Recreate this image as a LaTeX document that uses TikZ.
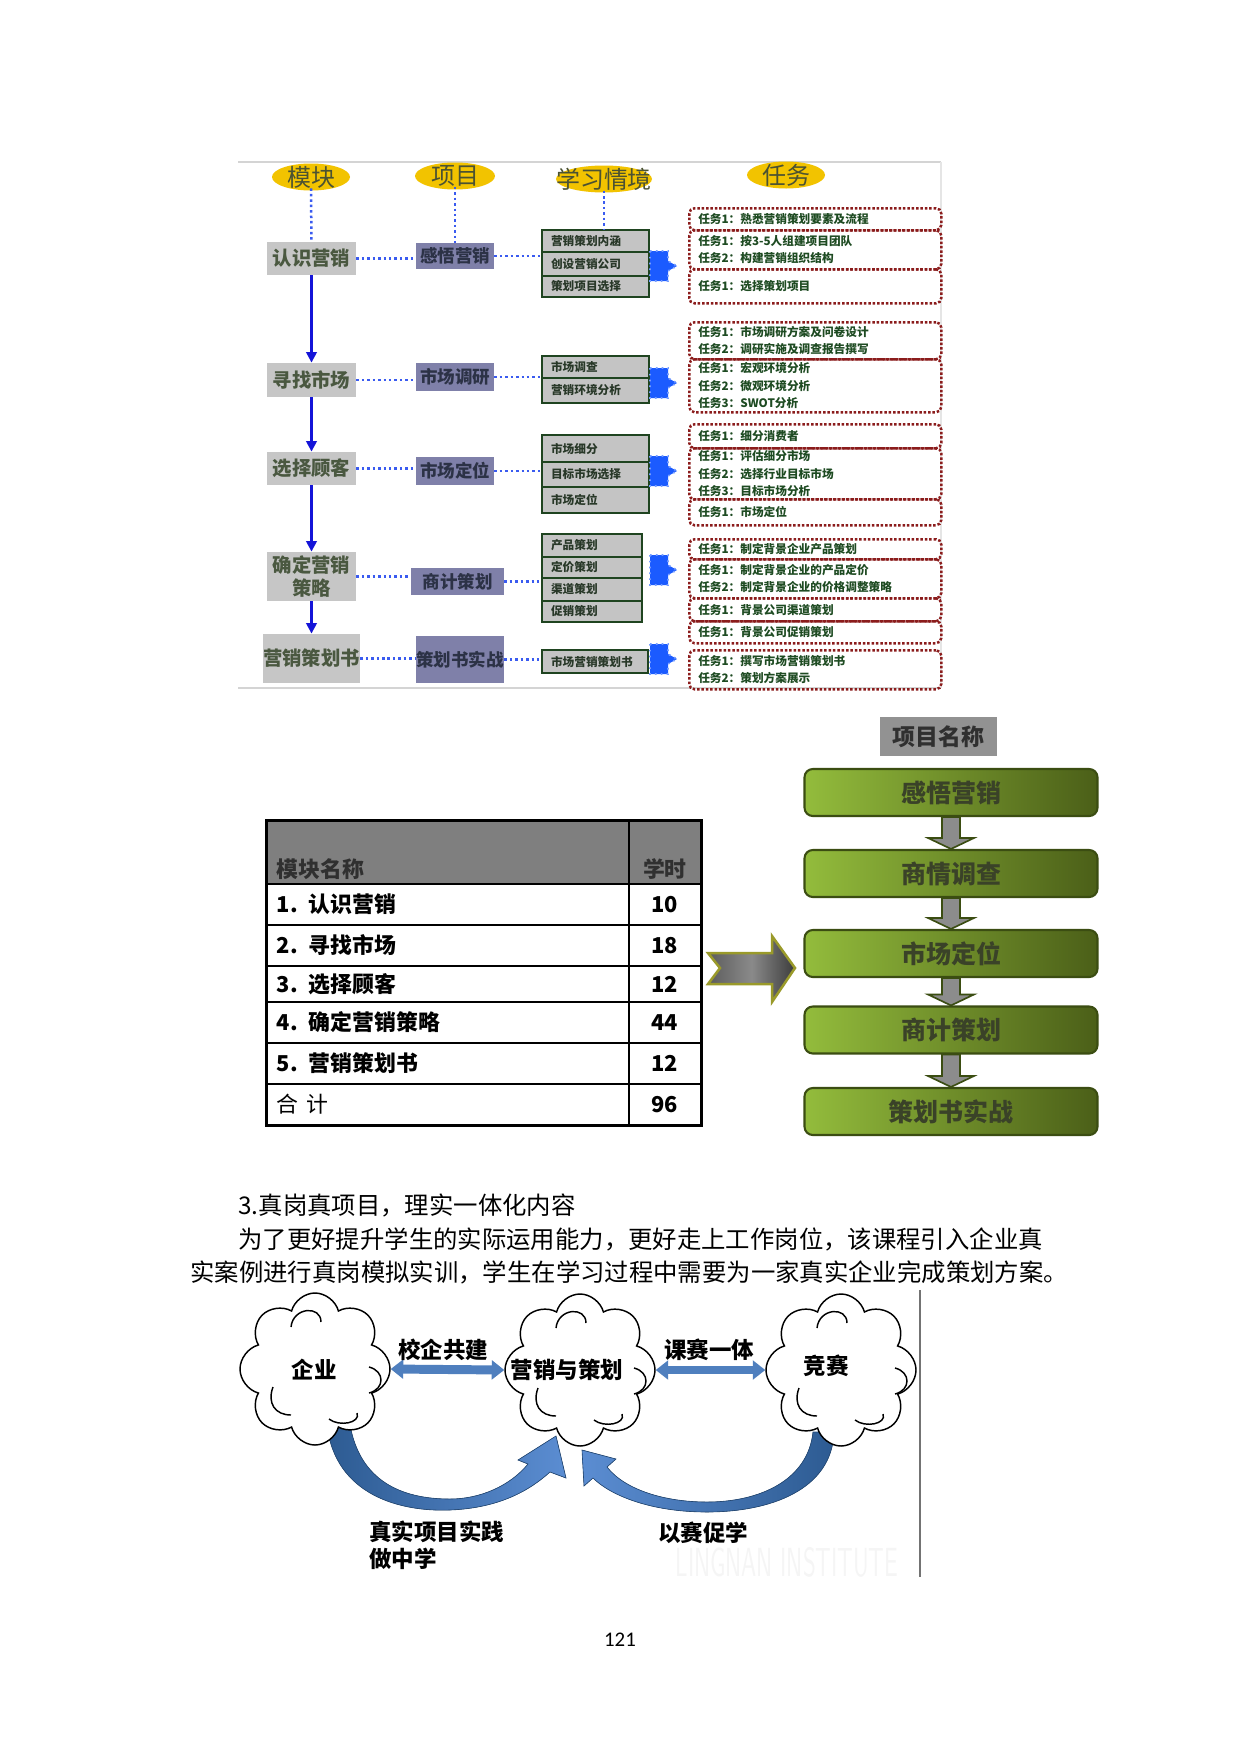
\documentclass[tikz,border=0pt]{standalone}
\usepackage{fontspec}
\setmainfont{Noto Sans CJK SC}
\newfontfamily\numfont{Carlito}
\usetikzlibrary{shapes.geometric,shapes.symbols,arrows.meta,calc}

\newcommand{\pxu}{0.48pt}
\newcommand{\fsz}[2]{\fontsize{#1}{#2}\selectfont}

\definecolor{framegray}{HTML}{D4D4D4}
\definecolor{headgold}{HTML}{F2C300}
\definecolor{headtxt}{HTML}{4B5232}
\definecolor{modfill}{HTML}{C6C6C6}
\definecolor{modtxt}{HTML}{4A5840}
\definecolor{projfill}{HTML}{7F80A9}
\definecolor{projtxt}{HTML}{2C3246}
\definecolor{rowfill}{HTML}{C4C4C4}
\definecolor{rowline}{HTML}{1F4420}
\definecolor{rowtxt}{HTML}{283828}
\definecolor{linkblue}{HTML}{3A5BF0}
\definecolor{flowblue}{HTML}{1414D8}
\definecolor{blobblue}{HTML}{1B5BFF}
\definecolor{taskred}{HTML}{8B1C1C}
\definecolor{tasktxt}{HTML}{1E4B22}
\definecolor{namegray}{HTML}{929292}
\definecolor{nametxt}{HTML}{303030}
\definecolor{greenL}{HTML}{93BC3C}
\definecolor{greenR}{HTML}{4B5F18}
\definecolor{greenline}{HTML}{3B4D12}
\definecolor{greentxt}{HTML}{3A4228}
\definecolor{arrowgray}{HTML}{8C8C8C}
\definecolor{chevline}{HTML}{9A9A2A}
\definecolor{chevL}{HTML}{5C5C5C}
\definecolor{chevM}{HTML}{8A8A8A}
\definecolor{chevR}{HTML}{3C3C3C}
\definecolor{tabhead}{HTML}{7F7F7F}
\definecolor{tabtxtc}{HTML}{303030}
\definecolor{swooshD}{HTML}{2D5B92}
\definecolor{swooshL}{HTML}{5B8DD2}
\definecolor{dblfill}{HTML}{4F7FBE}

\tikzset{
  headtext/.style={inner sep=0pt, text=headtxt, font=\fsz{11.5}{13}},
  modbox/.style={fill=modfill, text=modtxt, font=\fsz{9.3}{11.5}\bfseries, minimum width=89*\pxu, inner sep=0pt, align=center},
  projbox/.style={fill=projfill, text=projtxt, font=\fsz{8.4}{10}\bfseries, inner sep=0pt},
  rowbox/.style={draw=rowline, line width=1.2pt, fill=rowfill, text=rowtxt, font=\fsz{5.6}{7}\bfseries, text width={(#1-18)*\pxu}, inner xsep=9*\pxu, inner ysep=0pt, align=left},
  taskbox/.style={draw=taskred, line width=1.2pt, dash pattern=on 1.2pt off 0.9pt, rounded corners=2.5pt, text=tasktxt, font=\fsz{5.6}{8.4}\bfseries, text width=234*\pxu, inner xsep=9*\pxu, inner ysep=0pt, align=left, anchor=north west},
  dotlink/.style={draw=linkblue, line width=1.2pt, dash pattern=on 1.2pt off 1.4pt},
  flowarrow/.style={draw=flowblue, line width=1.1pt, -{Triangle[width=5pt,length=5pt]}},
  blob/.style={fill=blobblue, draw=blobblue!60!white, line width=0.8pt, dotted},
  namebox/.style={fill=namegray, text=nametxt, font=\fsz{11}{13}\bfseries, minimum width=117*\pxu, minimum height=39*\pxu, inner sep=0pt},
  gbox/.style={draw=greenline, line width=1pt, rounded corners=4pt, left color=greenL, right color=greenR, text=greentxt, font=\fsz{12}{14}\bfseries, minimum width=293*\pxu, minimum height=47*\pxu, inner sep=0pt},
  garrow/.style={fill=arrowgray, draw=greenline, line width=0.8pt},
  chevron/.style={draw=chevline, line width=1.2pt, left color=chevL, right color=chevR, middle color=chevM},
  tabcell/.style={draw=black, line width=0.9pt, inner sep=0pt, anchor=north west, font=\fsz{10.5}{12}\bfseries},
  tabtxt/.style={inner sep=0pt, text=tabtxtc, font=\fsz{10.5}{12}\bfseries},
  bodytxt/.style={inner sep=0pt, anchor=west, font=\fsz{11.7}{14}},
  cloudnode/.style={cloud, cloud puffs=8, cloud puff arc=150, aspect=1, draw=black, line width=0.7pt, fill=white, minimum width=150*\pxu, minimum height=152*\pxu, inner sep=0pt},
  cloudline/.style={draw=black, line width=0.7pt},
  cloudtxt/.style={inner sep=0pt, font=\fsz{10.8}{13}\bfseries},
  dbl/.style={draw=dblfill, line width=4.3pt, {Triangle[width=9pt,length=6pt]}-{Triangle[width=9pt,length=6pt]}},
  swoosh/.style={draw=swooshD!80!black, line width=0.3pt},
  lbl/.style={inner sep=0pt, font=\fsz{10.8}{13}\bfseries},
}

\begin{document}
\begin{tikzpicture}[x=0.48pt,y=-0.48pt]
\useasboundingbox[fill=white] (0,0) rectangle (1240,1753);

% modules, projects, situations, tasks
\draw[framegray, line width=1pt] (238,162) -- (941,162) (238,688) -- (941,688);
\draw[framegray!60, line width=0.6pt] (941,162) -- (941,688);

\foreach \x/\y/\rx/\nm/\txt in {311/177/39/hmod/模块, 455/176/40/hproj/项目, 604/179/48/hsit/学习情境, 786/175/39/htask/任务}{
  \fill[headgold] (\x,\y) ellipse [x radius=\rx, y radius=13.5];
  \node[headtext] (\nm) at (\x,\y) {\txt};
}

\foreach \n/\y/\h/\txt in {1/258.5/33/认识营销, 2/380/34/寻找市场, 3/468.5/33/选择顾客, 4/576.5/49/{确定营销\\策略}, 5/658.5/49/营销策划书}
  \node[modbox, minimum height=\h*\pxu] (mod\n) at (311.5,\y) {\txt};

\foreach \n/\x/\y/\w/\h/\txt in {1/455/256/78/26/感悟营销, 2/455/377/78/28/市场调研, 3/455/471/78/28/市场定位, 4/457.5/581.5/93/27/商计策划, 5/460/659.5/88/47/策划书实战}
  \node[projbox, minimum width=\w*\pxu, minimum height=\h*\pxu] (proj\n) at (\x,\y) {\txt};

\foreach \s/\r/\y/\h/\w/\txt in {1/1/241/22/107/营销策划内涵, 1/2/264/24/107/创设营销公司, 1/3/286.5/21/107/策划项目选择,
    2/1/367/22/107/市场调查, 2/2/390.5/25/107/营销环境分析,
    3/1/448.5/27/107/市场细分, 3/2/474.5/25/107/目标市场选择, 3/3/500/26/107/市场定位,
    4/1/545.5/23/100/产品策划, 4/2/567.5/21/100/定价策划, 4/3/589.5/23/100/渠道策划, 4/4/611.5/21/100/促销策划,
    5/1/661.5/23/106/市场营销策划书}
  \node[rowbox=\w, minimum height=\h*\pxu] (sit\s\r) at ({542+\w/2},\y) {\txt};

\draw[dotlink] (hmod) -- (mod1);
\draw[dotlink] (hproj) -- (proj1);
\draw[dotlink] (hsit) -- (hsit |- sit11.north);
\foreach \n in {1,...,5}{
  \draw[dotlink] (mod\n.east) -- (mod\n.east -| proj\n.west);
  \draw[dotlink] (proj\n.east) -- (proj\n.east -| sit\n1.west);
}
\foreach \a/\b in {1/2, 2/3, 3/4, 4/5}
  \draw[flowarrow] (mod\a) -- (mod\b);

\foreach \y in {266,383,471,570,659}
  \draw[blob] (650,{\y-15}) -- (668,{\y-15}) -- (668,{\y-5}) -- (677,\y) -- (668,{\y+5}) -- (668,{\y+15}) -- (650,{\y+15}) -- cycle;

\foreach \n/\top/\bot/\txt in {1/207/229/{任务1：熟悉营销策划要素及流程},
    2/229/268/{任务1：按3-5人组建项目团队\\任务2：构建营销组织结构},
    3/268/302/{任务1：选择策划项目},
    4/321/358/{任务1：市场调研方案及问卷设计\\任务2：调研实施及调查报告撰写},
    5/358/411/{任务1：宏观环境分析\\任务2：微观环境分析\\任务3：SWOT分析},
    6/423/447/{任务1：细分消费者},
    7/447/498/{任务1：评估细分市场\\任务2：选择行业目标市场\\任务3：目标市场分析},
    8/498/524/{任务1：市场定位},
    9/538/558/{任务1：制定背景企业产品策划},
    10/558/597/{任务1：制定背景企业的产品定价\\任务2：制定背景企业的价格调整策略},
    11/597/620/{任务1：背景公司渠道策划},
    12/620/642/{任务1：背景公司促销策划},
    13/649/688/{任务1：撰写市场营销策划书\\任务2：策划方案展示}}
  \node[taskbox, minimum height={(\bot-\top)*\pxu}] (task\n) at (688,\top) {\txt};

% project names and hours table
\node[namebox] (pname) at (938.5,736.5) {项目名称};
\foreach \n/\y/\txt in {1/792.5/感悟营销, 2/873.5/商情调查, 3/953.5/市场定位, 4/1030/商计策划, 5/1111.5/策划书实战}
  \node[gbox] (g\n) at (951,\y) {\txt};
\foreach \a/\b in {1/2, 2/3, 3/4, 4/5}
  \draw[garrow] ($(g\a.south)+(-9,0)$) -- ($(g\b.north)+(-9,-11)$) -- ++(-14,0) -- (g\b.north) -- ++(23,-11) -- ++(-14,0) -- ($(g\a.south)+(9,0)$) -- cycle;

\draw[chevron] (708,953) -- (772,953) -- (772,936) -- (795,968) -- (772,1002) -- (772,984) -- (708,984) -- (720,968) -- cycle;

\node[tabcell, fill=tabhead, minimum width=362*\pxu, minimum height=63*\pxu] (th1) at (266,820) {};
\node[tabcell, fill=tabhead, minimum width=72*\pxu, minimum height=63*\pxu] (th2) at (628,820) {};
\node[tabtxt, anchor=south west] (tht1) at ([shift={(10,-5)}]th1.south west) {模块名称};
\node[tabtxt, anchor=south] (tht2) at ([shift={(0,-5)}]th2.south) {学时};
\foreach \n/\top/\bot/\name/\hrs in {1/883/924/{1. 认识营销}/10, 2/924/965/{2. 寻找市场}/18, 3/965/1001/{3. 选择顾客}/12,
    4/1001/1042/{4. 确定营销策略}/44, 5/1042/1083/{5. 营销策划书}/12, 6/1083/1124/{\mdseries 合 计}/96}{
  \node[tabcell, minimum width=362*\pxu, minimum height={(\bot-\top)*\pxu}, text width=342*\pxu, inner xsep=10*\pxu, align=left] (rn\n) at (266,\top) {\name};
  \node[tabcell, minimum width=72*\pxu, minimum height={(\bot-\top)*\pxu}] (rh\n) at (628,\top) {\hrs};
}
\draw[line width=1.4pt] (th1.north west) rectangle (rh6.south east);

% text
\node[bodytxt] (par1) at (238,1205) {3.真岗真项目，理实一体化内容};
\node[bodytxt] (par2) at (238,1239) {为了更好提升学生的实际运用能力，更好走上工作岗位，该课程引入企业真};
\node[bodytxt] (par3) at (190,1272) {实案例进行真岗模拟实训，学生在学习过程中需要为一家真实企业完成策划方案。};

% clouds
\fill[swoosh, left color=swooshD, right color=swooshL] (327,1425) .. controls (335,1495) and (400,1512) .. (450,1510) .. controls (500,1508) and (530,1490) .. (550,1472) -- (566,1478) -- (556,1436) -- (518,1460) -- (528,1464) .. controls (510,1486) and (480,1499) .. (450,1499) .. controls (400,1499) and (360,1480) .. (350,1425) -- cycle;
\fill[swoosh, left color=swooshL, right color=swooshD] (834,1432) .. controls (832,1490) and (770,1512) .. (707,1512) .. controls (650,1512) and (610,1495) .. (593,1478) -- (584,1486) -- (582,1450) -- (616,1459) -- (607,1467) .. controls (625,1490) and (665,1502) .. (707,1502) .. controls (760,1502) and (808,1480) .. (813,1432) -- cycle;

\node[cloudnode] (c1) at (315,1369) {};
\node[cloudnode] (c2) at (580,1370) {};
\node[cloudnode] (c3) at (841,1370) {};
\foreach \c in {c1,c2,c3}{
  \draw[cloudline] ([shift={(-24,-42)}]\c.center) .. controls +(2,-20) and +(0,-17) .. ([shift={(6,-47)}]\c.center);
  \draw[cloudline] ([shift={(54,-2)}]\c.center) .. controls +(16,4) and +(16,-4) .. ([shift={(54,24)}]\c.center);
  \draw[cloudline] ([shift={(-42,18)}]\c.center) .. controls +(-6,16) and +(-16,0) .. ([shift={(-24,46)}]\c.center);
  \draw[cloudline] ([shift={(14,50)}]\c.center) .. controls +(10,8) and +(4,10) .. ([shift={(42,44)}]\c.center);
}
\node[cloudtxt] (c1t) at (314,1370) {企业};
\node[cloudtxt] (c2t) at (567,1370) {营销与策划};
\node[cloudtxt] (c3t) at (826,1366) {竞赛};

\draw[dbl] (c1.east) -- (c2.west);
\draw[dbl] (c2.east) -- (c3.west);
\node[lbl] (l1) at (443,1350) {校企共建};
\node[lbl] (l2) at (709,1350) {课赛一体};
\node[lbl, anchor=north west, align=left] (l3) at (369,1520) {真实项目实践\\做中学};
\node[lbl, anchor=west] (l4) at (658,1533) {以赛促学};
\node[text=black!4, font=\fsz{15}{15}\sffamily] (wmark) at (787,1562) {\scalebox{0.75}[1.3]{LINGNAN INSTITUTE}};
\draw[black!55, line width=0.8pt] (920,1290) -- (920,1577);

\node[font=\numfont\fsz{10}{12}] (pnum) at (620,1640) {121};
\end{tikzpicture}
\end{document}
